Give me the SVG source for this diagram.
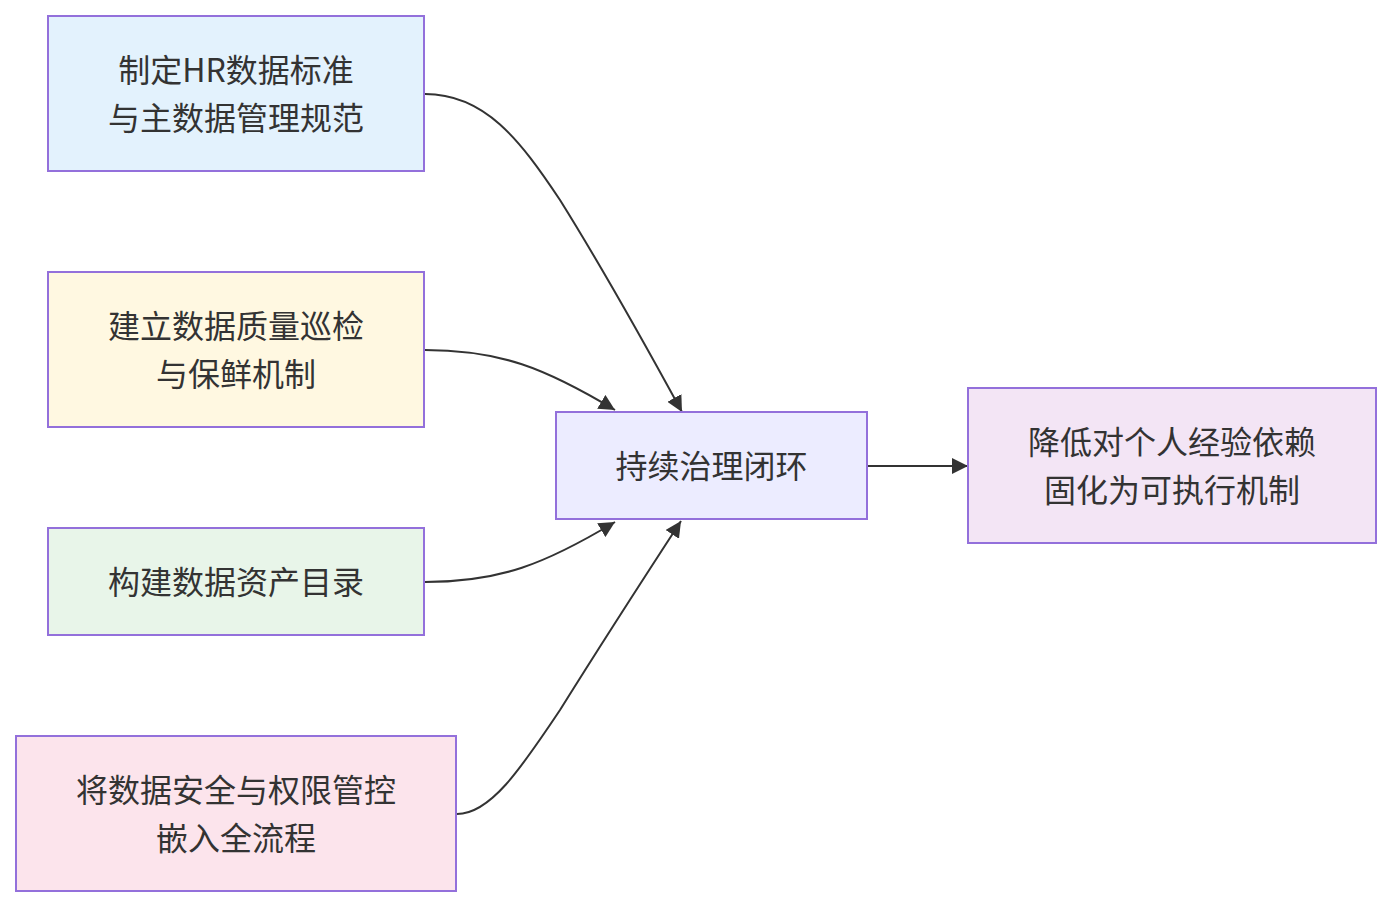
<svg xmlns="http://www.w3.org/2000/svg" width="1392" height="908" viewBox="0 0 1392 908">
<style>
.box{stroke:#9370DB;stroke-width:2}
.t{font-family:"Noto Sans CJK SC","Noto Sans",sans-serif;font-size:32px;fill:#333;text-anchor:middle;dominant-baseline:central}
.e{fill:none;stroke:#333;stroke-width:2}
</style>
<defs>
<marker id="arr" viewBox="0 0 10 10" refX="10" refY="5" markerWidth="16" markerHeight="16" markerUnits="userSpaceOnUse" orient="auto">
<path d="M0,0 L10,5 L0,10 z" fill="#333"/>
</marker>
</defs>
<rect width="1392" height="908" fill="#fff"/>
<g id="connectors">
<path class="e" d="M425,94 C485,94 520,140 560,200 Q610,280 682,412" marker-end="url(#arr)"/>
<path class="e" d="M425,350 C500,350 545,368 615,410" marker-end="url(#arr)"/>
<path class="e" d="M425,582 C500,582 545,564 615,522" marker-end="url(#arr)"/>
<path class="e" d="M457,814 C490,814 520,770 560,710 Q610,630 681,521" marker-end="url(#arr)"/>
<path class="e" d="M868,466 L968,466" marker-end="url(#arr)"/>
</g>
<g id="nodeA">
<rect class="box" x="48" y="16" width="376" height="155" fill="#e3f2fd"/>
<text class="t" x="236" y="68">制定HR数据标准</text>
<text class="t" x="236" y="116">与主数据管理规范</text>
</g>
<g id="nodeB">
<rect class="box" x="48" y="272" width="376" height="155" fill="#fff8e1"/>
<text class="t" x="236" y="324">建立数据质量巡检</text>
<text class="t" x="236" y="372">与保鲜机制</text>
</g>
<g id="nodeC">
<rect class="box" x="48" y="528" width="376" height="107" fill="#e8f5e9"/>
<text class="t" x="236" y="580">构建数据资产目录</text>
</g>
<g id="nodeD">
<rect class="box" x="16" y="736" width="440" height="155" fill="#fce4ec"/>
<text class="t" x="236" y="788">将数据安全与权限管控</text>
<text class="t" x="236" y="836">嵌入全流程</text>
</g>
<g id="nodeCenter">
<rect class="box" x="556" y="412" width="311" height="107" fill="#ececff"/>
<text class="t" x="711.5" y="464">持续治理闭环</text>
</g>
<g id="nodeRight">
<rect class="box" x="968" y="388" width="408" height="155" fill="#f3e5f5"/>
<text class="t" x="1172" y="440">降低对个人经验依赖</text>
<text class="t" x="1172" y="488">固化为可执行机制</text>
</g>
</svg>
